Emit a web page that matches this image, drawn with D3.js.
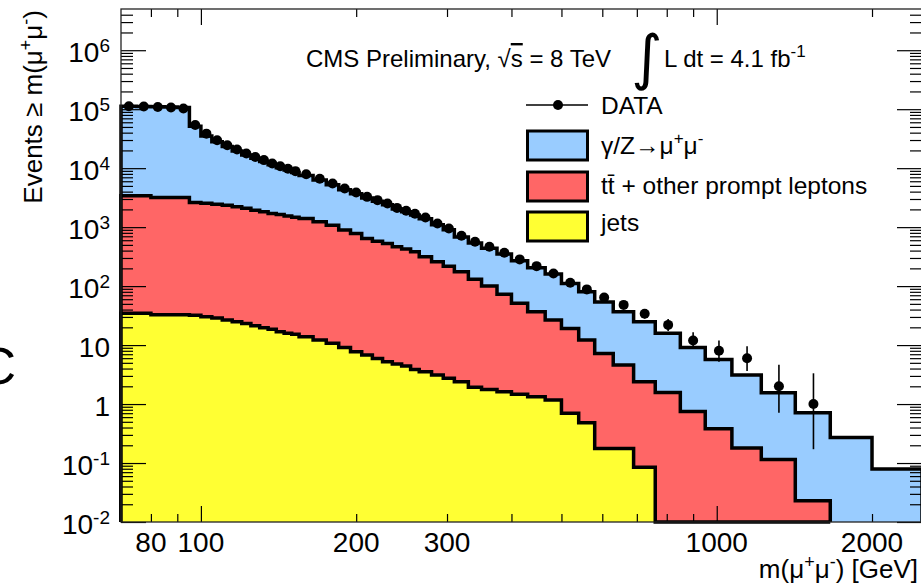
<!DOCTYPE html>
<html>
<head>
<meta charset="utf-8">
<script src="https://cdn.jsdelivr.net/npm/d3@7/dist/d3.min.js"></script>
<style>
    body { margin: 0; background: #fff; }
    svg { display: block; font-family: "Liberation Sans", Arial, Helvetica, sans-serif; }
</style>
</head>
<body>
<svg id="chart" width="921" height="583"></svg>
<script>
// --- Data (cumulative: events with m >= lower bin edge) ---
// bin edges in GeV
const massEdges = [70, 75, 80, 85, 90, 95, 100, 105, 110, 115, 120, 125, 130, 135, 140, 145, 150, 155,
    165, 175, 185, 195, 205, 215, 225, 235, 245, 255, 265, 280, 295, 310, 330, 350, 375, 400, 430, 465,
    500, 540, 580, 630, 690, 760, 850, 950, 1070, 1220, 1420, 1660, 2000, 2500];

// observed events
const dataCounts = [112000, 111000, 109000, 107000, 103000, 54000, 38500, 29800, 24500, 20700, 17700,
    15500, 13700, 12000, 10800, 9800, 8900, 7900, 6600, 5500, 4530, 3870, 3260, 2870, 2520, 2120, 1900,
    1690, 1460, 1155, 950, 713, 564, 464, 367, 284, 218, 164, 114, 88, 64, 48, 34, 22, 12, 8, 6, 2, 1, 0, 0];

// stacked levels: gamma/Z + ttbar + jets (total expectation)
const dyStack = [112000, 111000, 110000, 109000, 107000, 51500, 35000, 28000, 23200, 19600, 16800,
    14700, 13000, 11400, 10200, 9300, 8450, 7500, 6300, 5250, 4320, 3690, 3110, 2740, 2400, 2030, 1820,
    1610, 1390, 1100, 900, 680, 540, 440, 350, 270, 205, 160, 111, 80, 54, 36.7, 24.8, 15.8, 9.1, 5.7,
    3.1, 1.56, 0.71, 0.27, 0.079];

// stacked levels: ttbar + other prompt leptons + jets
const topStack = [3400, 3400, 3190, 3190, 3190, 2620, 2550, 2455, 2360, 2225, 2100, 1940, 1830, 1710,
    1630, 1550, 1475, 1400, 1230, 1080, 890, 782, 643, 579, 530, 464, 424, 381, 314, 258, 218, 175, 131,
    100, 73, 51, 36.7, 26.5, 19.2, 12.2, 7.2, 4.6, 2.39, 1.57, 0.75, 0.38, 0.18, 0.115, 0.023, 0, 0];

// jets
const jets = [34.5, 34.5, 32.6, 32.6, 32.6, 31.9, 30.2, 28.7, 26.5, 24.9, 23.3, 21.2, 19.6, 18.5, 16.8,
    15.8, 15.3, 13.8, 12.2, 10.7, 9.14, 7.69, 6.77, 5.95, 5.21, 4.76, 4.41, 3.87, 3.53, 3.10, 2.73, 2.39,
    1.92, 1.77, 1.62, 1.46, 1.33, 1.17, 0.70, 0.48, 0.177, 0.177, 0.085, 0, 0, 0, 0, 0, 0, 0, 0];

// axis ticks
const xMajorTicks = [100, 1000];
const xMinorTicks = [80, 90, 200, 300, 400, 500, 600, 700, 800, 900, 2000];
const xTickLabels = [80, 100, 200, 300, 1000, 2000];
const yDecades = [-2, -1, 0, 1, 2, 3, 4, 5, 6];
// --- End Data ---

const svg = d3.select("#chart");
const frame = { left: 121, top: 9, right: 922, bottom: 522 };

const x = d3.scaleLog().domain([70, 2500]).range([frame.left, frame.right]);
const y = d3.scaleLog().domain([0.01, 5e6]).range([frame.bottom, frame.top]);
const yv = v => (v > 0 ? y(v) : frame.bottom); // empty bins sit on the floor

// clip (a bit loose at left/bottom so the outlines keep their full width)
svg.append("clipPath").attr("id", "plotClip")
    .append("rect")
    .attr("x", frame.left - 3).attr("y", frame.top)
    .attr("width", frame.right - frame.left + 3)
    .attr("height", frame.bottom - frame.top + 3);

svg.append("rect")
    .attr("x", frame.left).attr("y", frame.top)
    .attr("width", frame.right - frame.left).attr("height", frame.bottom - frame.top)
    .attr("fill", "#fff");

const plot = svg.append("g").attr("clip-path", "url(#plotClip)");

// --- Stacked histograms ---
function lastFilled(vals) {
    let n = 0;
    vals.forEach((v, i) => { if (v > 0) n = i + 1; });
    return n;
}

function stepPoints(vals, nBins) {
    const pts = [[massEdges[0], 0]];
    for (let i = 0; i < nBins; i++) pts.push([massEdges[i], vals[i]]);
    pts.push([massEdges[nBins], vals[nBins - 1]]);
    pts.push([massEdges[nBins], 0]);
    return pts;
}

const stepLine = d3.line()
    .x(d => x(d[0]))
    .y(d => yv(d[1]))
    .curve(d3.curveStepAfter);

const layers = [
    { vals: dyStack, fill: "#99ccff", nBins: lastFilled(dyStack) },
    { vals: topStack, fill: "#ff6666", nBins: lastFilled(topStack) },
    { vals: jets, fill: "#ffff33", nBins: lastFilled(topStack) } // outline runs on the floor under the red
];

layers.forEach(layer => {
    const pts = stepPoints(layer.vals, layer.nBins);
    plot.append("path").attr("d", stepLine(pts))
        .attr("fill", layer.fill).attr("stroke", "none");
    plot.append("path").attr("d", stepLine(pts))
        .attr("fill", "none").attr("stroke", "#000")
        .attr("stroke-width", 3.5).attr("stroke-linejoin", "miter");
});

// --- Axes (ticks drawn inward on all four sides) ---
function tickAxis(axis, tx, ty, values, size) {
    const g = svg.append("g").attr("transform", `translate(${tx},${ty})`)
        .call(axis.tickValues(values).tickSize(size).tickFormat(""));
    g.select(".domain").remove();
    g.selectAll(".tick line").attr("stroke", "#000").attr("stroke-width", 1.2);
}

const yMajor = yDecades.map(k => Math.pow(10, k));
const yMinor = [];
yDecades.forEach(k => {
    for (let m = 2; m <= 9; m++) {
        const v = m * Math.pow(10, k);
        if (v < 5e6) yMinor.push(v);
    }
});

tickAxis(d3.axisRight(y), frame.left, 0, yMajor, 25);
tickAxis(d3.axisRight(y), frame.left, 0, yMinor, 12);
tickAxis(d3.axisLeft(y), frame.right, 0, yMajor, 25);
tickAxis(d3.axisLeft(y), frame.right, 0, yMinor, 12);
tickAxis(d3.axisTop(x), 0, frame.bottom, xMajorTicks, 16);
tickAxis(d3.axisTop(x), 0, frame.bottom, xMinorTicks, 8);
tickAxis(d3.axisBottom(x), 0, frame.top, xMajorTicks, 16);
tickAxis(d3.axisBottom(x), 0, frame.top, xMinorTicks, 8);

svg.append("rect")
    .attr("x", frame.left).attr("y", frame.top)
    .attr("width", frame.right - frame.left).attr("height", frame.bottom - frame.top)
    .attr("fill", "none").attr("stroke", "#222").attr("stroke-width", 1.3);

// --- Data points with Poisson (Gehrels approx.) error bars ---
const dataPts = dataCounts.map((n, i) => ({
    m: (massEdges[i] + massEdges[i + 1]) / 2,
    n: n,
    hi: n + Math.sqrt(n + 0.75) + 1,
    lo: n * Math.pow(1 - 1 / (9 * n) - 1 / (3 * Math.sqrt(n)), 3)
})).filter(d => d.n > 0);

plot.selectAll(".err").data(dataPts).enter().append("line")
    .attr("x1", d => x(d.m)).attr("x2", d => x(d.m))
    .attr("y1", d => yv(d.lo)).attr("y2", d => yv(d.hi))
    .attr("stroke", "#000").attr("stroke-width", 1.6);

plot.selectAll(".dot").data(dataPts).enter().append("circle")
    .attr("cx", d => x(d.m)).attr("cy", d => y(d.n))
    .attr("r", 5).attr("fill", "#000");

// --- Tick labels ---
const yLab = svg.append("g").attr("font-size", 28).attr("fill", "#000").attr("text-anchor", "end");
yDecades.forEach(k => {
    const t = yLab.append("text").attr("x", 110).attr("y", y(Math.pow(10, k)) + 12);
    if (k === 0) t.text("1");
    else if (k === 1) t.text("10");
    else {
        t.append("tspan").text("10");
        t.append("tspan").attr("font-size", 19).attr("dy", -10).text(k);
    }
});

svg.append("g").attr("font-size", 28).attr("text-anchor", "middle")
    .selectAll("text").data(xTickLabels).enter().append("text")
    .attr("x", d => x(d)).attr("y", 552).text(d => d);

// --- Axis titles ---
const xTitle = svg.append("text").attr("x", 918).attr("y", 578)
    .attr("font-size", 26).attr("text-anchor", "end");
xTitle.append("tspan").text("m(μ");
xTitle.append("tspan").attr("font-size", 18).attr("dy", -10).text("+");
xTitle.append("tspan").attr("dy", 10).text("μ");
xTitle.append("tspan").attr("font-size", 18).attr("dy", -10).text("-");
xTitle.append("tspan").attr("dy", 10).text(") [GeV]");

const yTitle = svg.append("text").attr("transform", "translate(42,10) rotate(-90)")
    .attr("font-size", 26).attr("text-anchor", "end");
yTitle.append("tspan").text("Events ≥ m(μ");
yTitle.append("tspan").attr("font-size", 18).attr("dy", -10).text("+");
yTitle.append("tspan").attr("dy", 10).text("μ");
yTitle.append("tspan").attr("font-size", 18).attr("dy", -10).text("-");
yTitle.append("tspan").attr("dy", 10).text(")");

// --- Header ---
const head = svg.append("text").attr("x", 306).attr("y", 67).attr("font-size", 24);
head.append("tspan").text("CMS Preliminary, √");
head.append("tspan").style("text-decoration", "overline").text("s");
head.append("tspan").text(" = 8 TeV");

svg.append("text").attr("x", 647).attr("y", 78).attr("font-size", 60)
    .attr("text-anchor", "middle").attr("font-family", "DejaVu Sans").text("∫");

const lumi = svg.append("text").attr("x", 664).attr("y", 67).attr("font-size", 24);
lumi.append("tspan").text("L dt = 4.1 fb");
lumi.append("tspan").attr("font-size", 17).attr("dy", -10).text("-1");

// --- Legend ---
const leg = svg.append("g").attr("font-size", 24.5);
leg.append("line").attr("x1", 526).attr("x2", 588).attr("y1", 105).attr("y2", 105)
    .attr("stroke", "#000").attr("stroke-width", 1.5);
leg.append("circle").attr("cx", 558).attr("cy", 105).attr("r", 5).attr("fill", "#000");
leg.append("text").attr("x", 601).attr("y", 114).text("DATA");

const boxes = [
    { fill: "#99ccff", y: 131 },
    { fill: "#ff6666", y: 172 },
    { fill: "#ffff33", y: 212 }
];
boxes.forEach(b => {
    leg.append("rect").attr("x", 527.5).attr("y", b.y).attr("width", 60).attr("height", 29)
        .attr("fill", b.fill).attr("stroke", "#000").attr("stroke-width", 3);
});

const l1 = leg.append("text").attr("x", 601).attr("y", 154);
l1.append("tspan").text("γ/Z→μ");
l1.append("tspan").attr("font-size", 17).attr("dy", -10).text("+");
l1.append("tspan").attr("dy", 10).text("μ");
l1.append("tspan").attr("font-size", 17).attr("dy", -10).text("-");

leg.append("text").attr("x", 601).attr("y", 194).text("tt\u0304 + other prompt leptons");
leg.append("text").attr("x", 601).attr("y", 231).text("jets");

// stray glyph cut by the left edge of the picture
svg.append("text").attr("x", 16).attr("y", 384).attr("font-size", 52)
    .attr("text-anchor", "end").text("C");
</script>
</body>
</html>
